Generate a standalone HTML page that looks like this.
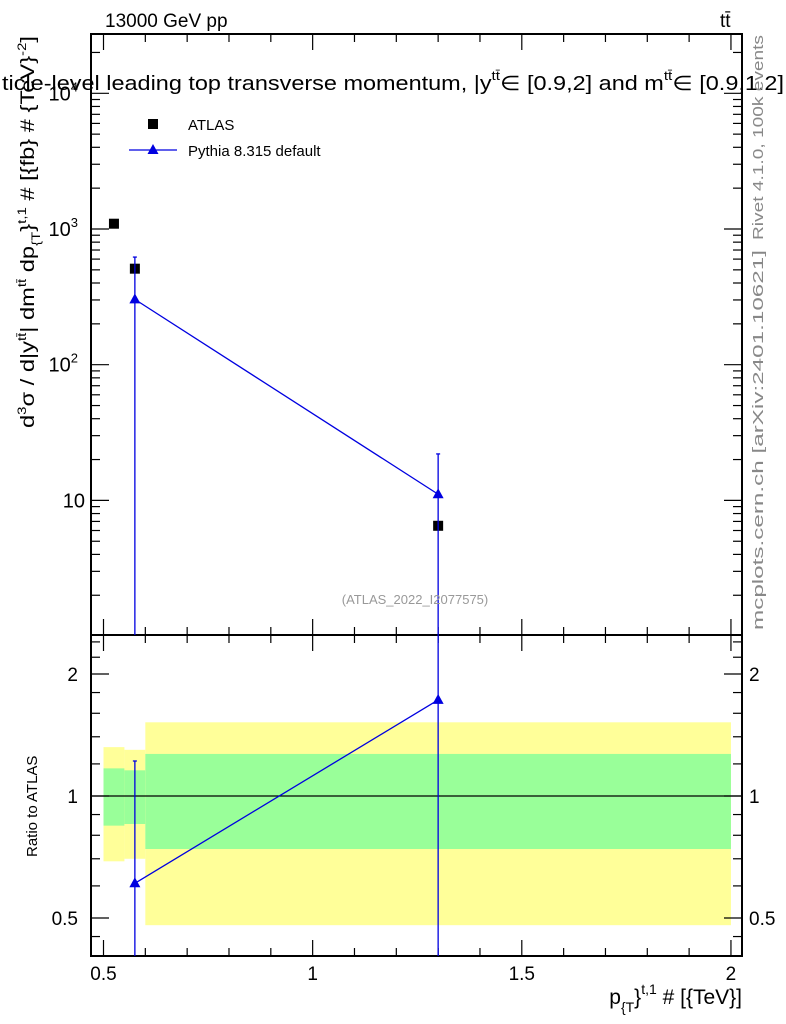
<!DOCTYPE html>
<html><head><meta charset="utf-8"><style>
html,body{margin:0;padding:0;background:#fff}
svg{display:block;font-family:"Liberation Sans",sans-serif}
</style></head><body>
<svg id="c" width="786" height="1024" viewBox="0 0 786 1024" xmlns="http://www.w3.org/2000/svg">
<g id="bands"></g>
<g id="axes"></g>
<g id="marks"></g>
<text x="105" y="27" font-size="19">13000 GeV pp</text>
<text x="720" y="27" font-size="19">tt̄</text>
<text x="2" y="90" font-size="20" textLength="782" lengthAdjust="spacingAndGlyphs">ticle-level leading top transverse momentum, |y<tspan font-size="13" dy="-10">tt̄</tspan><tspan dy="10">∈ [0.9,2] and m</tspan><tspan font-size="13" dy="-10">tt̄</tspan><tspan dy="10">∈ [0.9,1.2]</tspan></text>
<rect x="148" y="119" width="10" height="10" fill="#000"/>
<text x="188" y="130" font-size="15">ATLAS</text>
<line x1="129" y1="150" x2="177" y2="150" stroke="#0000e0" stroke-width="1.3"/>
<polygon points="153,144 147.5,154 158.5,154" fill="#0000e0"/>
<text x="188" y="156" font-size="15">Pythia 8.315 default</text>
<text x="415" y="604" font-size="13" fill="#999" text-anchor="middle">(ATLAS_2022_I2077575)</text>
<text transform="translate(763,240) rotate(-90)" font-size="15" fill="#888" textLength="205" lengthAdjust="spacingAndGlyphs">Rivet 4.1.0,  100k events</text>
<text transform="translate(763,630) rotate(-90)" font-size="15" fill="#888" textLength="380" lengthAdjust="spacingAndGlyphs">mcplots.cern.ch [arXiv:2401.10621]</text>
<text transform="translate(34,428) rotate(-90)" font-size="19" textLength="392" lengthAdjust="spacingAndGlyphs">d<tspan font-size="12" dy="-8">3</tspan><tspan dy="8">σ / d|y</tspan><tspan font-size="12" dy="-8">tt̄</tspan><tspan dy="8">| dm</tspan><tspan font-size="12" dy="-8">tt̄</tspan><tspan dy="8"> dp</tspan><tspan font-size="12" dy="6">{T</tspan><tspan dy="-6">}</tspan><tspan font-size="12" dy="-8">t,1</tspan><tspan dy="8"> # [{fb} # {TeV}</tspan><tspan font-size="12" dy="-8">-2</tspan><tspan dy="8">]</tspan></text>
<text transform="translate(37,857) rotate(-90)" font-size="15">Ratio to ATLAS</text>
<text x="742" y="1004" font-size="21" text-anchor="end">p<tspan font-size="14" dy="8">{T</tspan><tspan dy="-8">}</tspan><tspan font-size="14" dy="-10">t,1</tspan><tspan dy="10"> # [{TeV}]</tspan></text>
</svg>
<script>
const binEdges=[0.5,0.55,0.6,2.0];
const atlasX=[0.525,0.575,1.3];
const atlasY=[1094,510,6.5];
const pyX=[0.575,1.3];
const pyY=[303,11.1];
const pyErrUp=[621,22];
const ratioY=[0.609,1.726];
const ratioErrUp=[1.22,5];
const yellowHi=[1.32,1.30,1.52];
const yellowLo=[0.69,0.70,0.48];
const greenHi=[1.17,1.157,1.27];
const greenLo=[0.845,0.853,0.74];
const xTicks=[0.5,1,1.5,2];
const xTickLabels=["0.5","1","1.5","2"];
const yTicks=[10,100,1000,10000];
const yTickBase=["10","10","10","10"];
const yTickExp=["","2","3","4"];
const rTicks=[0.5,1,2];
const rTickLabels=["0.5","1","2"];

const NS="http://www.w3.org/2000/svg";
const L=91,R=742,T=34,MID=635,B=956;
const X=v=>103.5+(v-0.5)*418.3;
const Y=v=>229-135.7*(Math.log10(v)-3);
const RY=v=>796-122*Math.log2(v);
function mk(tag,attrs,parent){const e=document.createElementNS(NS,tag);for(const k in attrs)e.setAttribute(k,attrs[k]);parent.appendChild(e);return e;}
const bands=document.getElementById('bands'),axes=document.getElementById('axes'),marks=document.getElementById('marks');

for(let i=0;i<binEdges.length-1;i++){
  const x0=X(binEdges[i]),x1=X(binEdges[i+1]);
  let e=mk('rect',{x:x0,y:RY(yellowHi[i]),width:x1-x0,height:RY(yellowLo[i])-RY(yellowHi[i]),fill:'#ffff99'},bands);
  
  
  e=mk('rect',{x:x0,y:RY(greenHi[i]),width:x1-x0,height:RY(greenLo[i])-RY(greenHi[i]),fill:'#99ff99'},bands);
  
  
}
let ln=mk('line',{x1:L,x2:R,y1:RY(1),y2:RY(1),stroke:'#000','stroke-width':1.2},bands);



for(const [t,b,n] of [[T,MID,'main-frame'],[MID,B,'ratio-frame']]){
  const f=mk('rect',{x:L,y:t,width:R-L,height:b-t,fill:'none',stroke:'#000','stroke-width':2},axes);
  
  
}
function tick(x1,y1,x2,y2){mk('line',{x1,y1,x2,y2,stroke:'#000','stroke-width':1.2},axes);}
for(let v=0.5;v<=2.0001;v+=0.1){
  const major=xTicks.some(t=>Math.abs(t-v)<1e-6);const len=major?16:8;const x=X(v);
  for(const [t,b] of [[T,MID],[MID,B]]){tick(x,t,x,t+len);tick(x,b,x,b-len);}
}
xTicks.forEach((v,i)=>{const e=mk('text',{x:X(v),y:980,'font-size':19,'text-anchor':'middle'},axes);e.textContent=xTickLabels[i];

});
for(let d=0;d<5;d++){for(let m=1;m<10;m++){const v=m*Math.pow(10,d);const y=Y(v);if(y<T||y>MID)continue;const len=m===1?18:9;tick(L,y,L+len,y);tick(R,y,R-len,y);}}
yTicks.forEach((v,i)=>{const e=mk('text',{x:yTickExp[i]?78:85,y:Y(v)+7,'font-size':20,'text-anchor':'end'},axes);


const b=mk('tspan',{},e);b.textContent=yTickBase[i];
if(yTickExp[i]){const s=mk('tspan',{'font-size':13,dy:-9},e);s.textContent=yTickExp[i];}});
[0.45,0.6,0.7,0.8,0.9,1.2,1.4,1.6,1.8,2.2,2.4].forEach(v=>{const y=RY(v);tick(L,y,L+9,y);tick(R,y,R-9,y);});
rTicks.forEach((v,i)=>{const y=RY(v);tick(L,y,L+18,y);tick(R,y,R-18,y);
let e=mk('text',{x:78,y:y+7,'font-size':19,'text-anchor':'end'},axes);e.textContent=rTickLabels[i];


e=mk('text',{x:749,y:y+7,'font-size':19},axes);e.textContent=rTickLabels[i];

});

atlasX.forEach((v,i)=>{const e=mk('rect',{x:X(v)-5,y:Y(atlasY[i])-5,width:10,height:10,fill:'#000'},marks);

});
const blue='#0000e0';
function tri(x,y,n){const e=mk('polygon',{points:`${x},${y-6} ${x-5.5},${y+4} ${x+5.5},${y+4}`,fill:blue},marks);

}
let pts=pyX.map((v,i)=>X(v)+','+Y(pyY[i])).join(' ');
let pl=mk('polyline',{points:pts,fill:'none',stroke:blue,'stroke-width':1.3},marks);


pyX.forEach((v,i)=>{const x=X(v);const e=mk('line',{x1:x,x2:x,y1:Y(pyErrUp[i]),y2:MID,stroke:blue,'stroke-width':1.3},marks);


mk('line',{x1:x-2,x2:x+2,y1:Y(pyErrUp[i]),y2:Y(pyErrUp[i]),stroke:blue,'stroke-width':1.3},marks);
tri(x,Y(pyY[i]),'pythia-point');});
pts=pyX.map((v,i)=>X(v)+','+RY(ratioY[i])).join(' ');
pl=mk('polyline',{points:pts,fill:'none',stroke:blue,'stroke-width':1.3},marks);


pyX.forEach((v,i)=>{const x=X(v);const top=Math.max(MID,RY(ratioErrUp[i]));const e=mk('line',{x1:x,x2:x,y1:top,y2:B,stroke:blue,'stroke-width':1.3},marks);


if(top>MID)mk('line',{x1:x-2,x2:x+2,y1:top,y2:top,stroke:blue,'stroke-width':1.3},marks);
tri(x,RY(ratioY[i]),'ratio-pythia-point');});
</script>
</body></html>
